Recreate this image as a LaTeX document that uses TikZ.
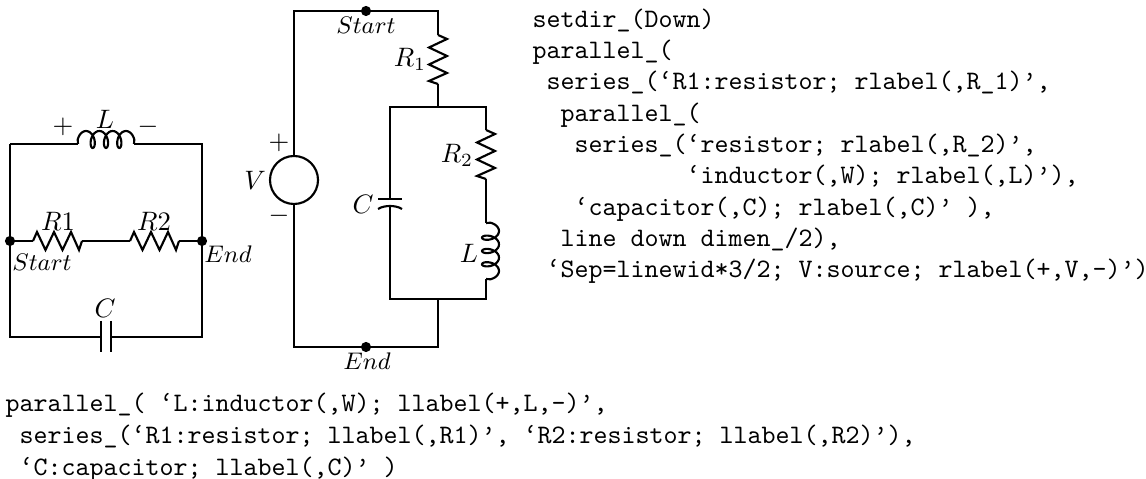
\documentclass[tikz,border=0pt]{standalone}
\usepackage{amsmath}
\usepackage{tikz}
\usepackage{xcolor}
\definecolor{black}{RGB}{0,0,0}
\tikzset{
  x=0.375pt, y=-0.375pt,
  wire/.style={line width=0.8pt, line join=miter},
  lab/.style={inner sep=0pt},
  code/.style={inner sep=0pt, anchor=north west, align=left},
  coil/.pic={\draw[wire] (0,0) -- plot[domain=-270:990, samples=85, smooth] ({14.7+13.3*\x/360-5*sin(\x)},{-4.5+8.5*cos(\x)}) -- (56,0);},
  zig/.pic={\draw[wire] (0,0) -- (4,-9) -- (12.5,9) -- (21,-9) -- (29.5,9) -- (38,-9) -- (46,9) -- (49,0);}
}
\begin{document}
\begin{tikzpicture}
  \useasboundingbox (0,0) rectangle (1146,479);

  % horizontal circuit
  \coordinate (tl) at (10,144);
  \coordinate (tr) at (202,144);
  \coordinate (bl) at (10,337);
  \coordinate (br) at (202,337);
  \coordinate (lstart) at (10,241);
  \coordinate (lend) at (202,241);
  \draw[wire] (tl) -- (78,144);
  \draw[wire] (134,144) -- (tr) -- (br) -- (111,337);
  \draw[wire] (101,337) -- (bl) -- (tl);
  \pic at (78,144) {coil};
  \draw[wire] (101,321) -- (101,352);
  \draw[wire] (111,321) -- (111,352);
  \draw[wire] (lstart) -- (33,241);
  \pic at (33,241) {zig};
  \draw[wire] (82,241) -- (130,241);
  \pic at (130,241) {zig};
  \draw[wire] (179,241) -- (lend);
  \filldraw[black] (lstart) circle (4.5);
  \filldraw[black] (lend) circle (4.5);
  \node[lab, font=\small] (lstartlab) at (42,262) {$Start$};
  \node[lab, font=\small] (lendlab) at (228,254) {$End$};
  \node[lab] (lplus) at (63,127) {$+$};
  \node[lab] (llab) at (105,119) {$L$};
  \node[lab] (lminus) at (148,127) {$-$};
  \node[lab] (r1lab) at (58,221) {$R1$};
  \node[lab] (r2lab) at (154,221) {$R2$};
  \node[lab] (clab) at (105,308) {$C$};

  % vertical circuit
  \coordinate (vtl) at (294,11);
  \coordinate (vtr) at (438,11);
  \coordinate (vbl) at (294,347);
  \coordinate (vbr) at (438,347);
  \coordinate (vstart) at (366,11);
  \coordinate (vend) at (366,347);
  \node[draw, circle, line width=0.8pt, minimum size=48*0.375pt, inner sep=0pt] (src) at (294,180) {};
  \draw[wire] (src.north) -- (vtl) -- (vtr) -- (438,35);
  \pic[rotate=-90] at (438,35) {zig};
  \draw[wire] (438,84) -- (438,107);
  \draw[wire] (src.south) -- (vbl) -- (vbr) -- (438,299);
  \draw[wire] (390,199) -- (390,107) -- (486,107) -- (486,130);
  \pic[rotate=-90] at (486,130) {zig};
  \draw[wire] (486,179) -- (486,223);
  \pic[rotate=-90] at (486,223) {coil};
  \draw[wire] (486,279) -- (486,299) -- (390,299) -- (390,206);
  \draw[wire] (378,199) -- (402,199);
  \draw[wire] (378,209) .. controls (384,205) and (396,205) .. (402,209);
  \filldraw[black] (vstart) circle (4.5);
  \filldraw[black] (vend) circle (4.5);
  \node[lab, font=\small] (vstartlab) at (366,25) {$Start$};
  \node[lab, font=\small] (vendlab) at (367,361) {$End$};
  \node[lab] (vr1lab) at (410,59) {$R_1$};
  \node[lab] (vr2lab) at (457,155) {$R_2$};
  \node[lab] (vclab) at (363,204) {$C$};
  \node[lab] (vllab) at (469,253) {$L$};
  \node[lab] (vv) at (255,180) {$V$};
  \node[lab] (vplus) at (279,143) {$+$};
  \node[lab] (vminus) at (279,216) {$-$};

  % source text
  \node[code, font=\fontsize{10}{11.75}\selectfont\ttfamily] (codev) at (532,8) {setdir\_(Down)\\
parallel\_(\\
~series\_(‘R1:resistor; rlabel(,R\_1)’,\\
~~parallel\_(\\
~~~series\_(‘resistor; rlabel(,R\_2)’,\\
~~~~~~~~~~~‘inductor(,W); rlabel(,L)’),\\
~~~‘capacitor(,C); rlabel(,C)’ ),\\
~~line down dimen\_/2),\\
~‘Sep=linewid*3/2; V:source; rlabel(+,V,-)’)};
  \node[code, font=\fontsize{10}{12}\selectfont\ttfamily] (codeh) at (5,392) {parallel\_( ‘L:inductor(,W); llabel(+,L,-)’,\\
~series\_(‘R1:resistor; llabel(,R1)’, ‘R2:resistor; llabel(,R2)’),\\
~‘C:capacitor; llabel(,C)’ )};
\end{tikzpicture}
\end{document}
